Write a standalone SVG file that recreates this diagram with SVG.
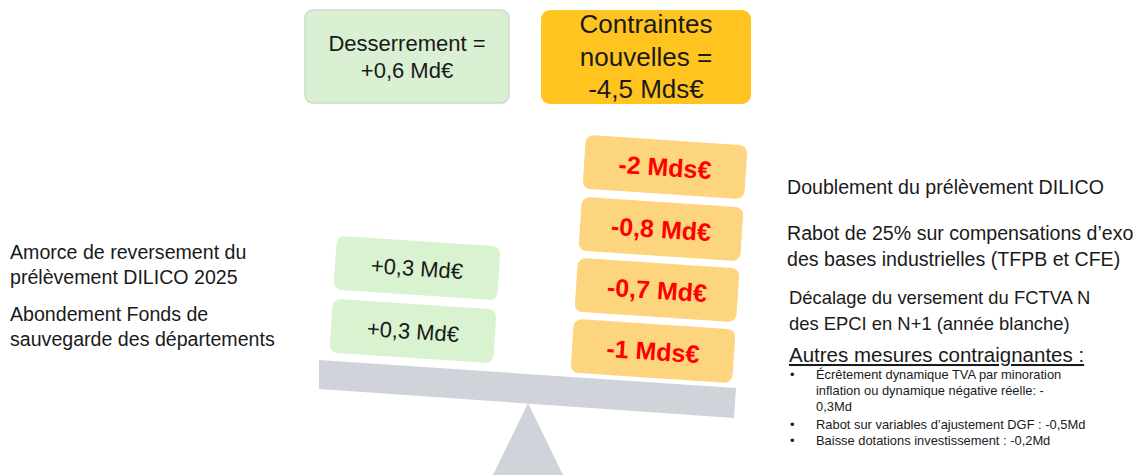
<svg xmlns="http://www.w3.org/2000/svg" width="1137" height="475" viewBox="0 0 1137 475">
<style>
text{font-family:"Liberation Sans",Arial,sans-serif;fill:#1a1a1a}
.lbl{font-size:19.6px}
.lbl2{font-size:18.4px}
.lft{font-size:19.6px}
.hdr{font-size:22px;text-anchor:middle}
.big{font-size:26px;text-anchor:middle}
.g{fill:#d9f2d0}
.o{fill:#fed57f}
.red{font-size:25px;font-weight:bold;fill:#ff0000;text-anchor:middle}
.gv{font-size:22px;text-anchor:middle}
.sm{font-size:12.9px}
.beam{fill:#d0d4da}
</style>
<rect width="1137" height="475" fill="#ffffff"/>
<g id="balance">
<polygon class="beam" points="319,360 736,388 734,418 319,389"/>
<polygon class="beam" points="528,403 563,475 493,475"/>
</g>
<g id="desserrement">
<rect x="305" y="10" width="204" height="93" rx="8" fill="#d9f0d3" stroke="#d0d8d0" stroke-width="1.5"/>
<text class="hdr" x="407" y="51">Desserrement =</text>
<text class="hdr" x="407" y="78">+0,6 Md€</text>
</g>
<g id="contraintes">
<rect x="541" y="10" width="210" height="94" rx="9" fill="#ffc41f"/>
<text class="big" x="646" y="33">Contraintes</text>
<text class="big" x="646" y="66">nouvelles =</text>
<text class="big" x="646" y="98">-4,5 Mds€</text>
</g>
<g id="green1" transform="translate(417,268) rotate(3.8)">
<rect class="g" x="-82" y="-27" width="164" height="54" rx="8"/>
<text class="gv" x="0" y="8">+0,3 Md€</text>
</g>
<g id="green2" transform="translate(413,331) rotate(3.8)">
<rect class="g" x="-82" y="-27" width="164" height="54" rx="8"/>
<text class="gv" x="0" y="8">+0,3 Md€</text>
</g>
<g id="orange1" transform="translate(665,167) rotate(3.8)">
<rect class="o" x="-81" y="-27" width="162" height="54" rx="8"/>
<text class="red" x="0" y="9">-2 Mds€</text>
</g>
<g id="orange2" transform="translate(661,229) rotate(3.8)">
<rect class="o" x="-81" y="-27" width="162" height="54" rx="8"/>
<text class="red" x="0" y="9">-0,8 Md€</text>
</g>
<g id="orange3" transform="translate(657,290) rotate(3.8)">
<rect class="o" x="-81" y="-27" width="162" height="54" rx="8"/>
<text class="red" x="0" y="9">-0,7 Md€</text>
</g>
<g id="orange4" transform="translate(653,351) rotate(3.8)">
<rect class="o" x="-81" y="-27" width="162" height="54" rx="8"/>
<text class="red" x="0" y="9">-1 Mds€</text>
</g>
<g id="left-labels">
<text class="lft" x="10" y="259">Amorce de reversement du</text>
<text class="lft" x="10" y="284">prélèvement DILICO 2025</text>
<text class="lft" x="10" y="321">Abondement Fonds de</text>
<text class="lft" x="10" y="346">sauvegarde des départements</text>
</g>
<g id="right-labels">
<text class="lbl" x="787" y="194">Doublement du prélèvement DILICO</text>
<text class="lbl" x="787" y="240">Rabot de 25% sur compensations d’exo</text>
<text class="lbl" x="787" y="266">des bases industrielles (TFPB et CFE)</text>
<text class="lbl2" x="789" y="304">Décalage du versement du FCTVA N</text>
<text class="lbl2" x="789" y="330">des EPCI en N+1 (année blanche)</text>
<text x="789" y="362" font-size="20.5" text-decoration="underline">Autres mesures contraignantes :</text>
<text class="sm" x="790" y="379">•</text>
<text class="sm" x="816" y="379">Écrêtement dynamique TVA par minoration</text>
<text class="sm" x="816" y="395">inflation ou dynamique négative réelle: -</text>
<text class="sm" x="816" y="411">0,3Md</text>
<text class="sm" x="790" y="429">•</text>
<text class="sm" x="816" y="429">Rabot sur variables d’ajustement DGF : -0,5Md</text>
<text class="sm" x="790" y="445">•</text>
<text class="sm" x="816" y="445">Baisse dotations investissement : -0,2Md</text>
</g>
</svg>
